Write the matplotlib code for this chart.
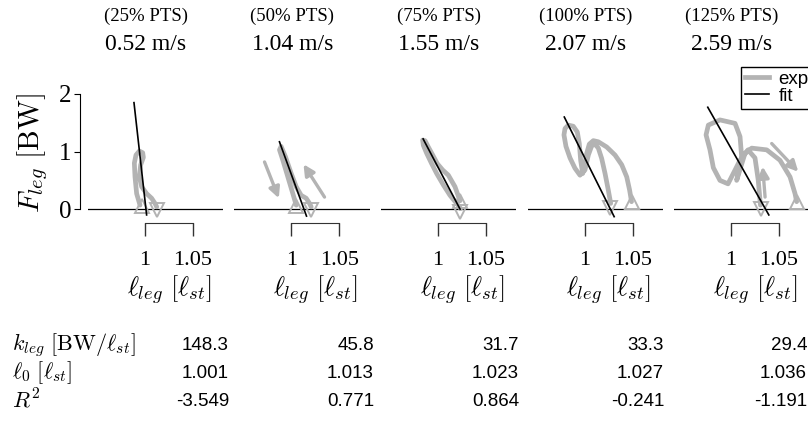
import matplotlib
matplotlib.use("Agg")
import matplotlib.pyplot as plt
from matplotlib.lines import Line2D
from matplotlib.transforms import blended_transform_factory

plt.rcParams["font.family"] = "serif"
plt.rcParams["font.serif"] = ["Liberation Serif", "DejaVu Serif"]
plt.rcParams["mathtext.fontset"] = "cm"

# --- data ---
pts = ["(25% PTS)", "(50% PTS)", "(75% PTS)", "(100% PTS)", "(125% PTS)"]
speeds = ["0.52 m/s", "1.04 m/s", "1.55 m/s", "2.07 m/s", "2.59 m/s"]
k_leg = [148.3, 45.8, 31.7, 33.3, 29.4]
l0 = [1.001, 1.013, 1.023, 1.027, 1.036]
r2 = [-3.549, 0.771, 0.864, -0.241, -1.191]
k_txt = ["148.3", "45.8", "31.7", "33.3", "29.4"]
l0_txt = ["1.001", "1.013", "1.023", "1.027", "1.036"]
r2_txt = ["-3.549", "0.771", "0.864", "-0.241", "-1.191"]

# force range covered by the fitted line in each panel
fit_top = [1.85, 1.17, 1.22, 1.60, 1.77]
fit_bot = [-0.10, -0.12, 0.0, -0.13, -0.10]

# experimental leg length / leg force loops
exp_l = [
    [0.9948, 0.9913, 0.9896, 0.9889, 0.9906, 0.9941, 0.9976, 0.9983, 0.9955,
     0.9941, 0.9965, 1.0017, 1.0069, 1.0104, 1.0122],
    [1.0049, 1.0014, 0.9962, 0.9910, 0.9875, 0.9892, 0.9937, 0.9997, 1.0049,
     1.0101, 1.0153, 1.0188, 1.0205],
    [1.0229, 1.0177, 1.0108, 1.0049, 0.9993, 0.9945, 0.9899, 0.9865, 0.9840,
     0.9847, 0.9882, 0.9934, 0.9986, 1.0056, 1.0125, 1.0194, 1.0236],
    [1.0490, 1.0470, 1.0440, 1.0388, 1.0318, 1.0231, 1.0144, 1.0092, 1.0050,
     1.0023, 1.0002, 0.9981, 0.9960, 0.9946, 0.9925, 0.9883, 0.9831, 0.9797,
     0.9786, 0.9807, 0.9849, 0.9901, 0.9953, 1.0005, 1.0040, 1.0075, 1.0109,
     1.0144, 1.0179, 1.0214, 1.0248, 1.0273],
    [1.0684, 1.0667, 1.0615, 1.0510, 1.0372, 1.0216, 1.0146, 1.0059, 1.0111,
     1.0094, 1.0042, 0.9885, 0.9764, 0.9740, 0.9781, 0.9816, 0.9885, 0.9969,
     1.0094, 1.0177, 1.0250, 1.0284, 1.0302, 1.0307],
]
exp_F = [
    [0.07, 0.27, 0.56, 0.80, 0.94, 1.01, 0.98, 0.90, 0.77, 0.56, 0.39, 0.27,
     0.19, 0.10, 0.04],
    [0.07, 0.27, 0.56, 0.85, 1.03, 1.09, 0.91, 0.62, 0.39, 0.24, 0.19, 0.10,
     0.04],
    [0.145, 0.39, 0.59, 0.68, 0.79, 0.94, 1.08, 1.19, 1.20, 1.11, 0.97, 0.79,
     0.62, 0.42, 0.24, 0.10, 0.01],
    [0.13, 0.33, 0.56, 0.77, 0.94, 1.08, 1.17, 1.19, 1.13, 0.97, 0.77, 0.62,
     0.85, 1.14, 1.34, 1.44, 1.46, 1.40, 1.29, 1.09, 0.89, 0.71, 0.59, 0.68,
     0.94, 1.10, 1.13, 1.06, 0.88, 0.62, 0.33, 0.10],
    [0.13, 0.27, 0.56, 0.85, 1.03, 1.06, 0.97, 0.50, 0.91, 1.26, 1.49, 1.55,
     1.46, 1.29, 1.03, 0.72, 0.50, 0.44, 0.85, 1.03, 0.89, 0.50, 0.16, 0.07],
]
# touchdown (up triangle) and lift-off (down triangle)
td_l = [0.9965, 1.0049, 1.0229, 1.0490, 1.0690]
td_F = [0.05, 0.05, 0.15, 0.12, 0.12]
lo_l = [1.0122, 1.0205, 1.0229, 1.0270, 1.0315]
lo_F = [-0.02, -0.02, -0.05, 0.02, 0.0]

# arrows (start l, start F, end l, end F)
arrows = {
    1: [(0.9719, 0.82, 0.9868, 0.19), (1.0344, 0.21, 1.0125, 0.78)],
    4: [(1.0355, 0.21, 1.0330, 0.74), (1.0424, 1.14, 1.0701, 0.65)],
}

gray = "#b3b3b3"
W, H = 808, 428
fig = plt.figure(figsize=(W / 100, H / 100), dpi=100)

lefts = [88, 234.5, 381, 527.5, 674]
pw = 135
ax_top, ax_bot = 79.6, 223.0

for i in range(5):
    ax = fig.add_axes([lefts[i] / W, 1 - ax_bot / H, pw / W, (ax_bot - ax_top) / H])
    ax.set_xlim(1 - 57 / 960, 1 + 78 / 960)
    ax.set_ylim(-0.24, 2.25)
    ax.patch.set_visible(False)
    for s in ["top", "right"]:
        ax.spines[s].set_visible(False)

    ax.axhline(0, color="k", lw=0.9, zorder=1)
    ax.plot(exp_l[i], exp_F[i], color=gray, lw=3.4, solid_joinstyle="round",
            solid_capstyle="round", zorder=2)
    ax.plot(td_l[i], td_F[i], marker="^", ms=10.5, mfc="none", mec=gray, mew=1.4, zorder=2)
    ax.plot(lo_l[i], lo_F[i], marker="v", ms=10.5, mfc="none", mec=gray, mew=1.4, zorder=2)
    for a in arrows.get(i, []):
        ax.annotate("", xy=(a[2], a[3]), xytext=(a[0], a[1]),
                    arrowprops=dict(arrowstyle="-|>", color=gray, lw=2.4,
                                    mutation_scale=16, shrinkA=0, shrinkB=0))
    ax.plot([l0[i] - fit_top[i] / k_leg[i], l0[i] - fit_bot[i] / k_leg[i]],
            [fit_top[i], fit_bot[i]], color="k", lw=1.2, zorder=3)

    ax.spines["bottom"].set_bounds(1, 1.05)
    ax.spines["bottom"].set_color("#333333")
    ax.set_xticks([1, 1.05])
    ax.set_xticklabels(["1", "1.05"])
    ax.tick_params(axis="x", direction="out", length=9, width=1, color="#333333",
                   labelsize=16, pad=11)
    tr = blended_transform_factory(ax.transData, ax.transAxes)
    ax.text(1.025, -(290 - ax_bot) / (ax_bot - ax_top), r"$\ell_{leg}\ [\ell_{st}]$",
            transform=tr, ha="center", va="center", fontsize=19)

    if i == 0:
        ax.spines["left"].set_position(("outward", 6))
        ax.spines["left"].set_bounds(0, 2)
        ax.set_yticks([0, 1, 2])
        ax.tick_params(axis="y", direction="out", length=4, labelsize=18, pad=2)
    else:
        ax.spines["left"].set_visible(False)
        ax.set_yticks([])

    cx = (lefts[i] + 58) / W
    fig.text(cx, 1 - 16 / H, pts[i], ha="center", va="center", fontsize=13.5)
    fig.text(cx, 1 - 44 / H, speeds[i], ha="center", va="center", fontsize=17)

fig.text(33 / W, 1 - 153 / H, r"$F_{leg}\ [\mathrm{BW}]$", rotation=90,
         ha="center", va="center", fontsize=21)

handles = [Line2D([], [], color=gray, lw=3.4), Line2D([], [], color="k", lw=1.2)]
leg = fig.legend(handles, ["exp", "fit"], loc="upper left",
                 bbox_to_anchor=(741 / W, 1 - 67 / H), frameon=True, fancybox=False,
                 edgecolor="k", framealpha=1, handlelength=1.3, handletextpad=0.5,
                 borderpad=0.2, labelspacing=0.0, borderaxespad=0,
                 prop={"family": "Liberation Sans", "size": 13.5})
leg.get_frame().set_linewidth(1.0)

# table of fit parameters
row_y = [345, 373, 401]
row_lab = [r"$k_{leg}\ [\mathrm{BW}/\ell_{st}]$", r"$\ell_0\ [\ell_{st}]$", r"$R^2$"]
row_vals = [k_txt, l0_txt, r2_txt]
val_x = [229, 374, 519, 664, 807]
for r in range(3):
    fig.text(12 / W, 1 - row_y[r] / H, row_lab[r], ha="left", va="center", fontsize=16)
    for j in range(5):
        fig.text(val_x[j] / W, 1 - row_y[r] / H, row_vals[r][j], ha="right", va="center",
                 fontsize=13.5, family="Liberation Sans")

fig.savefig("out.png", dpi=100)
